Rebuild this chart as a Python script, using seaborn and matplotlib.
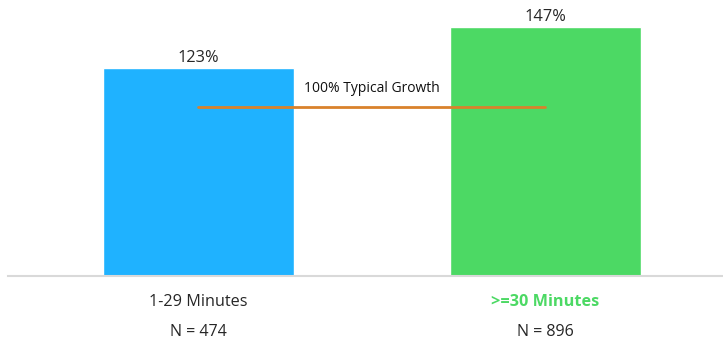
import matplotlib
matplotlib.use("Agg")
import matplotlib.pyplot as plt
import matplotlib.transforms as mtransforms
import seaborn as sns
import pandas as pd

categories = ["1-29 Minutes", ">=30 Minutes"]
growth_pct = [123, 147]
sample_sizes = [474, 896]
typical_growth = 100
bar_colors = ["#1fb2ff", "#4cd964"]
label_colors = ["#262626", "#4cd964"]
label_weights = ["normal", "bold"]

df = pd.DataFrame({"group": categories, "growth": growth_pct})

sns.set_theme(style="white")
plt.rcParams["font.family"] = ["Open Sans", "DejaVu Sans"]

fig = plt.figure(figsize=(7.23, 3.39), dpi=100)
ax = fig.add_axes([8 / 723, 1 - 276 / 339, 715 / 723, 276 / 339])

sns.barplot(data=df, x="group", y="growth", hue="group", palette=bar_colors,
            width=0.55, legend=False, ax=ax, saturation=1)

ax.set_xlim(-0.549, 1.512)
ax.set_ylim(0, 163)

for i, v in enumerate(growth_pct):
    ax.text(i, v + 1.2, f"{v}%", ha="center", va="bottom", fontsize=11.8, color="#262626")

# typical growth reference line between bar centres
ax.plot([0, 1], [typical_growth, typical_growth], color="#d9822b", lw=2, zorder=3)
ax.text(0.5, typical_growth + 6.5, f"{typical_growth}% Typical Growth", ha="center",
        va="bottom", fontsize=10, color="#111111")

for s in ["top", "left", "right"]:
    ax.spines[s].set_visible(False)
ax.spines["bottom"].set_color("#d9d9d9")
ax.spines["bottom"].set_linewidth(1.5)
ax.set_yticks([])
ax.set_xlabel("")
ax.set_ylabel("")
ax.set_xticks(range(len(categories)))
ax.set_xticklabels(categories, fontsize=11.7)
ax.tick_params(axis="x", length=0, pad=13)
for lbl, c, w in zip(ax.get_xticklabels(), label_colors, label_weights):
    lbl.set_color(c)
    lbl.set_fontweight(w)

trans = mtransforms.blended_transform_factory(ax.transData, fig.transFigure)
for i, n in enumerate(sample_sizes):
    ax.text(i, 1 - 332 / 339, f"N = {n}", transform=trans, ha="center", va="center",
            fontsize=11.5, color="#262626")

fig.savefig("out.png", dpi=100)
